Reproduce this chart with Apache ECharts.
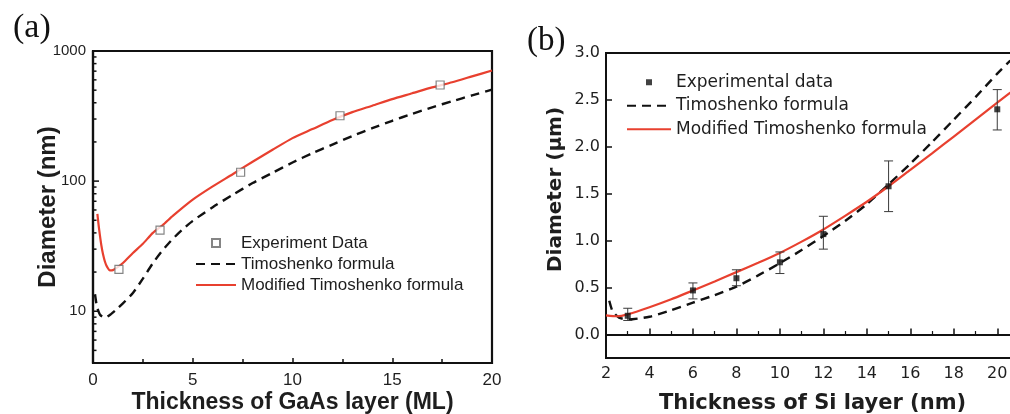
<!DOCTYPE html>
<html>
<head>
<meta charset="utf-8">
<script src="https://cdn.jsdelivr.net/npm/echarts@6/dist/echarts.min.js"></script>
<style>
  html, body { margin: 0; padding: 0; background: #fff; }
  #chart { width: 1010px; height: 414px; }
</style>
</head>
<body>
<div id="chart"></div>
<script>
// (a) GaAs layer thickness (ML) vs. tube diameter (nm), log scale
const gaasExperiment = [[1.3, 21], [3.36, 42], [7.4, 117], [12.38, 318], [17.4, 548]];
const gaasTimoshenko = [
  [0.1, 13.5], [0.2, 10.8], [0.35, 9.4], [0.6, 8.9], [0.9, 9.5], [1.2, 10.4], [1.5, 11.5],
  [2, 13.8], [2.5, 17.8], [3, 23.4], [3.5, 29.5], [4, 36], [4.5, 42.7], [5, 49.5], [6, 63],
  [7, 78.5], [8, 96.6], [9, 116], [10, 139], [11, 164], [12, 191], [13, 222], [14, 255],
  [15, 291], [16, 329], [17, 369], [18, 411], [19, 456], [20, 504]
];
const gaasModified = [
  [0.22, 56], [0.28, 46], [0.34, 39], [0.42, 32], [0.5, 27.5], [0.6, 24], [0.7, 22],
  [0.85, 20.6], [1.0, 20.7], [1.2, 21.6], [1.5, 23.5], [2, 28], [2.5, 33], [3, 40], [3.5, 46],
  [4, 54], [5, 72], [6, 91], [7, 113], [8, 141], [9, 174], [10, 214], [11, 251], [12, 295],
  [13, 339], [14, 380], [15, 427], [16, 473], [17, 525], [18, 575], [19, 638], [20, 708]
];
const gaasMajorTicks = [10, 100, 1000];
const gaasMinorTicks = [5, 6, 7, 8, 9, 20, 30, 40, 50, 60, 70, 80, 90, 200, 300, 400, 500, 600, 700, 800, 900];

// (b) Si layer thickness (nm) vs. tube diameter (um)
const siThickness = [3, 6, 8, 10, 12, 15, 20];
const siDiameter  = [0.2, 0.47, 0.6, 0.77, 1.07, 1.58, 2.4];
const siErrLow    = [0.15, 0.38, 0.52, 0.65, 0.91, 1.31, 2.18];
const siErrHigh   = [0.28, 0.55, 0.69, 0.88, 1.26, 1.85, 2.61];
const siTimoshenko = [
  [2.15, 0.36], [2.3, 0.25], [2.6, 0.18], [3, 0.16], [4, 0.19], [5, 0.26], [6, 0.34], [7, 0.42],
  [8, 0.51], [9, 0.63], [10, 0.76], [11, 0.9], [12, 1.05], [13, 1.21], [14, 1.39], [15, 1.6],
  [16, 1.82], [17, 2.05], [18, 2.29], [19, 2.53], [20, 2.78], [20.6, 2.92]
];
const siModified = [
  [2, 0.205], [2.5, 0.195], [3, 0.215], [4, 0.29], [5, 0.375], [6, 0.47], [7, 0.565], [8, 0.665],
  [9, 0.765], [10, 0.87], [11, 0.99], [12, 1.12], [13, 1.265], [14, 1.415], [15, 1.58], [16, 1.755],
  [17, 1.93], [18, 2.11], [19, 2.29], [20, 2.47], [21, 2.65]
];
const siYTicks = [0, 0.5, 1.0, 1.5, 2.0, 2.5, 3.0];

const RED = '#e8402f';
const INK = '#111';
const TEXT = '#1e1e1e';
const SANS_A = 'Liberation Sans, Arial, sans-serif';
const SANS_B = 'DejaVu Sans, sans-serif';
const SERIF = 'Liberation Serif, Times New Roman, serif';

// legend icons: a small square centred in the icon box, plain line keys without a marker
const squareIconA = 'path://M0,0M40,8M16,0h8v8h-8z';
const squareIconB = 'path://M0,0M44,6M19,0h6v6h-6z';
const noMarker = { color: 'transparent', borderWidth: 0, opacity: 0 };

const chart = echarts.init(document.getElementById('chart'), null, { renderer: 'canvas' });

const option = {
  animation: false,
  backgroundColor: '#fff',
  title: [
    { text: '(a)', left: 8, top: 6,
      textStyle: { fontFamily: SERIF, fontSize: 34, fontWeight: 'normal', color: INK } },
    { text: '(b)', left: 522, top: 20,
      textStyle: { fontFamily: SERIF, fontSize: 33, fontWeight: 'normal', color: INK } }
  ],
  grid: [
    { left: 93, right: 518, top: 51, bottom: 51, show: true, borderColor: INK, borderWidth: 2.2,
      backgroundColor: 'transparent', outerBoundsMode: 'none', containLabel: false },
    { left: 606, right: -9, top: 53, bottom: 56, show: true, borderColor: INK, borderWidth: 2,
      backgroundColor: 'transparent', outerBoundsMode: 'none', containLabel: false }
  ],
  legend: [
    {
      orient: 'vertical', left: 195, top: 233, padding: 0, itemGap: 1,
      itemWidth: 40, itemHeight: 8, selectedMode: false,
      data: [
        { name: 'Experiment Data', icon: squareIconA },
        { name: 'Timoshenko formula', itemStyle: noMarker },
        { name: 'Modified Timoshenko formula', itemStyle: noMarker }
      ],
      textStyle: { fontFamily: SANS_A, fontSize: 17, color: TEXT, lineHeight: 20 }
    },
    {
      orient: 'vertical', left: 626, top: 71, padding: 0, itemGap: 1,
      itemWidth: 44, itemHeight: 6, selectedMode: false,
      data: [
        { name: 'Experimental data', icon: squareIconB },
        { name: 'Timoshenko formula', itemStyle: noMarker },
        { name: 'Modified Timoshenko formula', itemStyle: noMarker }
      ],
      textStyle: { fontFamily: SANS_B, fontSize: 17, color: TEXT, lineHeight: 22.5 }
    }
  ],
  xAxis: [
    {
      gridIndex: 0, type: 'value', min: 0, max: 20, interval: 5,
      name: 'Thickness of GaAs layer (ML)', nameLocation: 'middle', nameGap: 28, nameMoveOverlap: false,
      nameTextStyle: { fontFamily: SANS_A, fontWeight: 'bold', fontSize: 23, color: TEXT },
      axisLine: { lineStyle: { color: INK, width: 2.2 } },
      axisTick: { inside: true, length: 5, lineStyle: { color: INK, width: 1.5 } },
      minorTick: { show: true, splitNumber: 2, length: 4, lineStyle: { color: INK, width: 1.5 } },
      splitLine: { show: false },
      axisLabel: { fontFamily: SANS_A, fontSize: 17, color: TEXT, margin: 9 }
    },
    {
      gridIndex: 1, type: 'value', min: 2, max: 21, interval: 2,
      name: 'Thickness of Si layer (nm)', nameLocation: 'middle', nameGap: 35, nameMoveOverlap: false,
      nameTextStyle: { fontFamily: SANS_B, fontWeight: 'bold', fontSize: 21, color: TEXT },
      axisLine: { lineStyle: { color: INK, width: 2 } },
      axisTick: { inside: true, length: 6, lineStyle: { color: INK, width: 1.5 } },
      minorTick: { show: true, splitNumber: 2, length: 3.5, lineStyle: { color: INK, width: 1.2 } },
      splitLine: { show: false },
      axisLabel: { fontFamily: SANS_B, fontSize: 16, color: TEXT, margin: 8, showMaxLabel: false }
    }
  ],
  yAxis: [
    {
      gridIndex: 0, type: 'log', logBase: 10, min: 4, max: 1000,
      name: 'Diameter (nm)', nameLocation: 'middle', nameGap: 33, nameRotate: 90, nameMoveOverlap: false,
      nameTextStyle: { fontFamily: SANS_A, fontWeight: 'bold', fontSize: 24, color: TEXT },
      axisLine: { lineStyle: { color: INK, width: 2.2 } },
      axisTick: { show: false },
      minorTick: { show: false },
      splitLine: { show: false },
      axisLabel: {
        fontFamily: SANS_A, fontSize: 15, color: TEXT, margin: 7,
        formatter: function (v) {
          return gaasMajorTicks.some(t => Math.abs(t - v) < 1e-6 * t) ? String(Math.round(v)) : '';
        }
      }
    },
    {
      gridIndex: 1, type: 'value', min: -0.25, max: 3.0, interval: 0.25,
      name: 'Diameter (\u03bcm)', nameLocation: 'middle', nameGap: 40, nameRotate: 90, nameMoveOverlap: false,
      nameTextStyle: { fontFamily: SANS_B, fontWeight: 'bold', fontSize: 20, color: TEXT, padding: [0, 0, 0, 32] },
      axisLine: { lineStyle: { color: INK, width: 2 } },
      axisTick: { inside: true, length: 6, customValues: siYTicks, lineStyle: { color: INK, width: 1.5 } },
      splitLine: { show: false },
      axisLabel: {
        fontFamily: SANS_B, fontSize: 16, color: TEXT, margin: 6, customValues: siYTicks,
        formatter: v => Number(v).toFixed(1)
      }
    }
  ],
  series: [
    {
      name: 'Experiment Data', type: 'scatter', xAxisIndex: 0, yAxisIndex: 0, z: 5,
      symbol: 'rect', symbolSize: 8,
      itemStyle: { color: '#fff', borderColor: '#666', borderWidth: 1.2 },
      data: gaasExperiment, silent: true
    },
    {
      name: 'Timoshenko formula', type: 'line', xAxisIndex: 0, yAxisIndex: 0, z: 3,
      symbol: 'none', smooth: 0.2,
      lineStyle: { color: INK, width: 2.4, type: [9, 6] },
      itemStyle: { color: INK },
      data: gaasTimoshenko, silent: true
    },
    {
      name: 'Modified Timoshenko formula', type: 'line', xAxisIndex: 0, yAxisIndex: 0, z: 4,
      symbol: 'none', smooth: 0.2,
      lineStyle: { color: RED, width: 2.2 },
      itemStyle: { color: RED },
      data: gaasModified, silent: true
    },
    {
      // inward major/minor ticks on the logarithmic diameter axis
      name: 'logTicks', type: 'custom', xAxisIndex: 0, yAxisIndex: 0, silent: true, clip: false, z: 6,
      data: gaasMajorTicks.map(v => [0, v, 1]).concat(gaasMinorTicks.map(v => [0, v, 0])),
      encode: { x: 0, y: 1 },
      renderItem: function (params, api) {
        const p = api.coord([api.value(0), api.value(1)]);
        const len = api.value(2) ? 6 : 3.5;
        return {
          type: 'line',
          shape: { x1: p[0], y1: p[1], x2: p[0] + len, y2: p[1] },
          style: { stroke: INK, lineWidth: 1.5 }
        };
      }
    },
    {
      // error bars of the Si measurements
      name: 'errorBars', type: 'custom', xAxisIndex: 1, yAxisIndex: 1, silent: true, z: 5,
      data: siThickness.map((t, i) => [t, siErrLow[i], siErrHigh[i]]),
      encode: { x: 0, y: [1, 2] },
      renderItem: function (params, api) {
        const lo = api.coord([api.value(0), api.value(1)]);
        const hi = api.coord([api.value(0), api.value(2)]);
        const w = 4.5;
        const st = { stroke: '#3a3a3a', lineWidth: 1 };
        return {
          type: 'group',
          children: [
            { type: 'line', shape: { x1: lo[0], y1: lo[1], x2: hi[0], y2: hi[1] }, style: st },
            { type: 'line', shape: { x1: hi[0] - w, y1: hi[1], x2: hi[0] + w, y2: hi[1] }, style: st },
            { type: 'line', shape: { x1: lo[0] - w, y1: lo[1], x2: lo[0] + w, y2: lo[1] }, style: st }
          ]
        };
      }
    },
    {
      name: 'Experimental data', type: 'scatter', xAxisIndex: 1, yAxisIndex: 1, z: 6,
      symbol: 'rect', symbolSize: 6,
      itemStyle: { color: INK },
      data: siThickness.map((t, i) => [t, siDiameter[i]]), silent: true
    },
    {
      name: 'Timoshenko formula', type: 'line', xAxisIndex: 1, yAxisIndex: 1, z: 3,
      symbol: 'none', smooth: 0.2,
      lineStyle: { color: INK, width: 2.4, type: [9, 6] },
      itemStyle: { color: INK },
      data: siTimoshenko, silent: true
    },
    {
      name: 'Modified Timoshenko formula', type: 'line', xAxisIndex: 1, yAxisIndex: 1, z: 4,
      symbol: 'none', smooth: 0.2,
      lineStyle: { color: RED, width: 2.2 },
      itemStyle: { color: RED },
      data: siModified, silent: true
    }
  ]
};

chart.setOption(option);
</script>
</body>
</html>
